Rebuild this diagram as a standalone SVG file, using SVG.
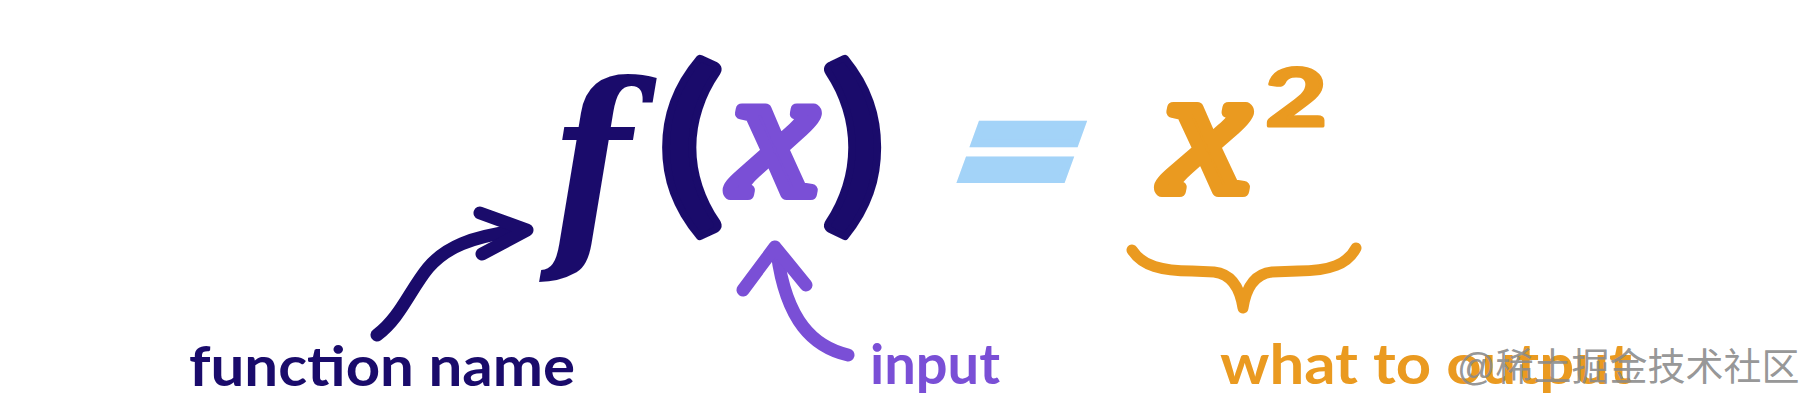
<svg xmlns="http://www.w3.org/2000/svg" width="1802" height="400" viewBox="0 0 1802 400">
<style>
.bg{fill:#ffffff}
.navy{fill:#1a0b6b}
.purple{fill:#7a4fd6}
.orange{fill:#ea9a20}
.blue{fill:#a3d3f8}
.fglyph{font-family:"DejaVu Serif","Liberation Serif",serif;font-style:italic;font-weight:700}
.xglyph{font-family:"Liberation Serif","DejaVu Serif",serif;font-style:italic;font-weight:400;stroke-width:12;stroke-linejoin:round;text-anchor:middle}
.paren{font-family:"Lato","DejaVu Sans",sans-serif;font-weight:700;stroke:#1a0b6b;stroke-width:6;stroke-linejoin:round}
.eq{font-family:"DejaVu Sans","Liberation Sans",sans-serif;font-weight:700;text-anchor:middle;stroke:#a3d3f8;stroke-width:8}
.sup{font-family:"Lato","DejaVu Sans",sans-serif;font-weight:700;text-anchor:middle;stroke:#ea9a20;stroke-width:3;stroke-linejoin:round}
.lbl{font-family:"Lato","Open Sans","Liberation Sans",sans-serif;font-weight:700;font-size:56px}
.wm{font-family:"Liberation Sans","Noto Sans CJK SC",sans-serif;font-size:38px;fill:#8a8a8a;fill-opacity:0.9}
.navyS{fill:none;stroke:#1a0b6b;stroke-width:13;stroke-linecap:round;stroke-linejoin:round}
.purpleS{fill:none;stroke:#7a4fd6;stroke-width:13;stroke-linecap:round;stroke-linejoin:round}
.orangeS{fill:none;stroke:#ea9a20;stroke-width:11;stroke-linecap:round;stroke-linejoin:round}
</style>
<rect class="bg" x="0" y="0" width="1802" height="400"/>
<g id="formula">
  <g id="f-name"><text class="fglyph navy" transform="translate(550,0) scale(0.85,1)" x="0" y="241" font-size="219">f</text></g>
  <g id="lparen"><text class="paren navy" transform="translate(657,0) scale(1.3,1)" x="0" y="207" font-size="190">(</text></g>
  <g id="x-input"><text class="xglyph purple" stroke="#7a4fd6" transform="translate(774,0) scale(1.05,1)" x="0" y="194" font-size="184">x</text></g>
  <g id="rparen"><text class="paren navy" transform="translate(821,0) scale(1.25,1)" x="0" y="207" font-size="190">)</text></g>
  <g id="equals"><text class="eq blue" x="1020" y="202" font-size="160" transform="skewX(-20) translate(57,0)">=</text></g>
  <g id="x-squared">
    <text class="xglyph orange" stroke="#ea9a20" transform="translate(1206,0) scale(1.08,1)" x="0" y="191" font-size="180">x</text>
    <text class="sup orange" transform="translate(1296,0) scale(1.35,1)" x="0" y="126" font-size="80">2</text>
  </g>
  <g id="brace"><path class="orangeS" d="M1132,250 C1142,266 1162,271 1192,271 L1214,272 C1232,274 1240,288 1243,308 C1246,288 1254,274 1272,272 L1298,271 C1330,271 1348,264 1356,248"/></g>
</g>
<g id="labels">
  <g id="lbl-function"><text class="lbl navy" x="189" y="386" textLength="386" lengthAdjust="spacingAndGlyphs">function name</text></g>
  <g id="lbl-input"><text class="lbl purple" x="870" y="384" textLength="130" lengthAdjust="spacingAndGlyphs">input</text></g>
  <g id="lbl-output"><text class="lbl orange" x="1220" y="384" textLength="412" lengthAdjust="spacingAndGlyphs">what to output</text></g>
</g>
<g id="connectors">
  <path class="navyS" d="M377,335 C400,318 410,290 428,268 C445,248 470,236 523,230"/>
  <path class="navyS" d="M480,213 L527,230 L482,254"/>
  <path class="purpleS" d="M848,355 C814,347 786,322 777,252"/>
  <path class="purpleS" d="M743,290 L775,247 L806,285"/>
</g>
<text class="wm" x="1457" y="380">@稀土掘金技术社区</text>
</svg>
